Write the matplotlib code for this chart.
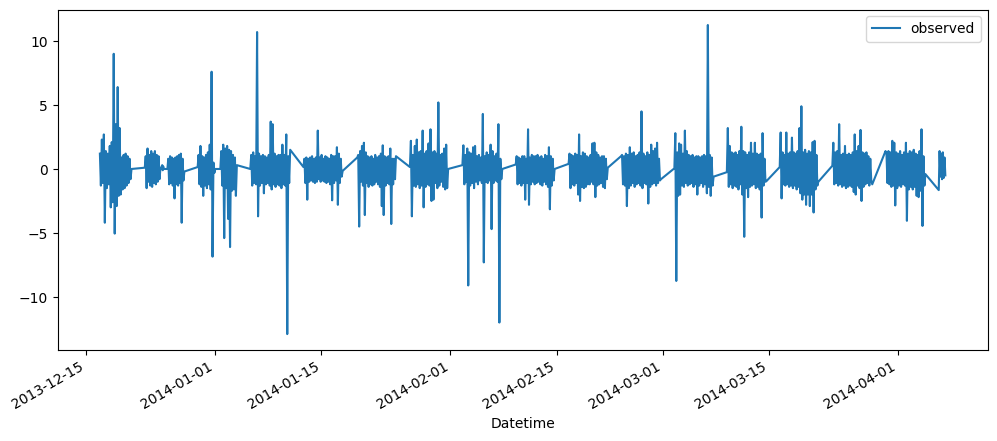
import numpy as np
import pandas as pd
import matplotlib
matplotlib.use("Agg")
import matplotlib.pyplot as plt

# session boundaries (one block of intraday values per week)
block_start = ["2013-12-16 18:43", "2013-12-22 16:48", "2013-12-25 00:00", "2013-12-25 16:19",
               "2013-12-29 16:05", "2014-01-01 15:50", "2014-01-05 14:38", "2014-01-12 14:53",
               "2014-01-19 17:17", "2014-01-26 15:50", "2014-02-02 13:55", "2014-02-09 14:38",
               "2014-02-16 13:55", "2014-02-23 12:00", "2014-03-02 12:43", "2014-03-09 10:48",
               "2014-03-16 10:05", "2014-03-23 08:38", "2014-03-30 08:53", "2014-04-06 09:22"]
block_end = ["2013-12-20 22:48", "2013-12-24 18:14", "2013-12-25 04:48", "2013-12-27 22:05",
             "2014-01-01 00:00", "2014-01-03 20:10", "2014-01-10 20:53", "2014-01-17 18:58",
             "2014-01-24 19:41", "2014-01-31 16:48", "2014-02-07 20:10", "2014-02-14 17:46",
             "2014-02-21 18:00", "2014-02-28 18:14", "2014-03-07 16:48", "2014-03-14 16:05",
             "2014-03-21 12:14", "2014-03-28 14:53", "2014-04-04 15:07", "2014-04-07 06:14"]

wk_dec16 = [1.2, -1.3, 2.3, -1.1, 2.7, -4.2, 1.4, -1.5, 1.2, -1.2, 1.8, -3.0, 2.1, -2.6, 9.0, -5.05,
            3.5, -2.9, 6.4, -2.1, 3.2, -2.0, 0.9, -1.6, 1.1, -1.5, 1.2, -1.3, 1.0, -1.1, 0.8, -0.8, 0.0]
wk_dec23 = [0.1, 1.0, -1.5, 1.6, -1.0, 1.1, -1.3, 1.4, -1.4, 1.2, -1.1, 1.4, -1.2, 1.1, -1.0, 1.0, -0.8, 0.0]
xmas = [0.3, -0.1, 0.2, 0.0]
wk_dec26 = [0.0, 0.8, -1.2, 1.0, -1.1, 0.9, -1.3, 0.8, -2.3, 0.9, -1.2, 1.0, -1.3, 1.1, -1.1, 1.2, -4.2,
            0.8, -0.9, -0.2]
wk_dec30 = [0.15, 1.1, -1.2, 1.8, -1.4, 1.0, -2.1, 0.9, -1.3, 1.1, -1.5, 1.3, -1.2, 1.9, -1.6, 7.6, -6.85,
            0.5, -0.3, 0.0]
wk_jan02 = [0.0, 1.4, -1.3, 1.9, -5.4, 1.6, -1.5, 1.8, -3.9, 1.5, -6.1, 1.4, -1.7, 1.1, -1.6, 0.9, -2.1, 0.3]
wk_jan06 = [0.0, 1.1, -1.3, 1.3, -1.1, 1.0, -1.2, 10.7, -3.7, 1.2, -1.3, 1.0, -1.1, 1.1, -1.9, 1.0, -1.2,
            0.9, -1.1, 1.1, -1.3, 3.7, -1.6, 3.5, -1.2, 1.2, -1.4, 1.0, -1.2, 1.1, -1.3, 1.1, -1.5,
            1.9, -1.2, 1.1, -1.3, 2.7, -12.9, 1.0, -1.1, 1.5]
wk_jan13 = [0.15, 0.8, -1.1, 0.9, -2.4, 0.8, -1.0, 0.9, -0.9, 1.0, -1.0, 0.8, -1.1, 0.9, -1.0, 3.0, -0.8,
            0.9, -1.0, 1.1, -0.9, 0.8, -1.0, 1.0, -1.1, 0.9, -1.0, 0.8, -1.2, 1.1, -2.45, 1.0, -1.1,
            1.0, -0.9, 1.7, -2.8, 1.2, -1.1, 0.8, -0.6, -0.15]
wk_jan20 = [0.9, 1.1, -4.5, 1.4, -1.0, 1.8, -1.3, 2.05, -3.6, 1.3, -1.1, 1.0, -1.4, 0.9, -1.2, 1.0, -1.3,
            0.8, -1.2, 1.1, -1.0, 0.9, -1.2, 1.0, -1.4, 1.2, -2.9, 1.85, -3.6, 1.0, -1.3, 0.9, -1.1,
            1.0, -1.2, 1.6, -4.3, 0.8, -1.2, 0.8, -0.8, 1.0]
wk_jan27 = [0.15, 2.2, -3.7, 1.1, -1.3, 1.8, -1.4, 2.3, -1.2, 1.3, -1.5, 1.4, -1.3, 3.0, -3.0, 1.2, -1.4,
            1.4, -1.2, 2.0, -1.3, 3.1, -2.5, 1.3, -2.4, 1.4, -1.1, 1.2, -1.5, 5.2, -1.3, 1.1, -1.0,
            1.2, -1.4, 1.6, -1.6, 1.9, -1.5, 0.0]
wk_feb03 = [0.3, 1.85, -1.2, 1.1, -1.0, 1.6, -9.1, 1.3, -1.3, 1.2, -1.1, 1.7, -1.5, 1.8, -1.0, 1.0, -1.2,
            1.1, -0.9, 0.9, -1.1, 4.3, -7.3, 1.0, -1.0, 1.3, -1.1, 1.1, -0.9, 1.9, -4.7, 1.4, -1.1,
            1.0, -0.9, 1.2, -1.0, 3.5, -12.0, 0.8, -0.8, 0.0]
wk_feb10 = [0.35, 1.0, -1.2, 0.9, -1.1, 0.8, -1.3, 1.0, -1.1, 1.0, -2.4, 0.8, -1.1, 3.1, -2.8, 0.9, -1.2,
            1.1, -1.0, 1.0, -1.2, 1.0, -1.1, 1.1, -1.0, 0.9, -1.2, 1.0, -1.3, 0.8, -1.0, 1.1, -1.2,
            1.0, -1.4, 1.7, -3.15, 1.0, -1.3, 0.8, -0.9, 0.0]
wk_feb17 = [0.4, 1.2, -1.5, 1.1, -1.2, 1.0, -1.3, 1.2, -1.1, 1.1, -2.0, 2.7, -2.5, 1.0, -1.4, 1.3, -1.5,
            1.2, -1.4, 1.0, -1.2, 0.9, -1.2, 1.1, -1.0, 2.0, -1.2, 2.05, -2.2, 1.3, -1.3, 1.1, -1.2,
            0.9, -1.1, 1.0, -1.4, 1.0, -1.5, 0.8, -0.8, 0.1]
wk_feb24 = [1.0, 1.1, -1.2, 1.0, -1.3, 1.2, -2.9, 1.1, -1.5, 1.7, -1.3, 1.2, -1.1, 1.3, -1.4, 1.0, -1.2,
            1.1, -1.1, 1.3, -1.3, 4.5, -1.5, 1.2, -1.1, 1.0, -1.2, 1.3, -2.7, 1.1, -1.4, 1.9, -1.2,
            1.4, -1.1, 1.6, -1.3, 2.05, -1.1, 0.8, -0.9, -0.8]
wk_mar03 = [0.05, 2.8, -8.75, 1.3, -2.1, 2.0, -2.0, 1.9, -1.3, 1.2, -1.4, 3.0, -1.1, 1.4, -1.3, 1.1, -1.2,
            1.0, -1.1, 1.1, -1.4, 0.9, -1.2, 1.0, -2.0, 1.0, -1.3, 0.9, -1.1, 1.0, -1.4, 1.1, -1.2,
            1.0, -1.9, 11.25, -1.4, 1.1, -2.1, 0.9, -1.3, -0.6]
wk_mar10 = [-0.25, 3.2, -1.4, 1.8, -1.2, 1.3, -1.5, 1.2, -1.3, 1.3, -1.4, 1.1, -1.6, 1.4, -1.2, 3.3, -2.0,
            1.4, -5.3, 1.3, -1.5, 1.1, -2.2, 1.3, -1.4, 2.05, -1.3, 1.2, -1.2, 2.05, -1.5, 1.2, -1.4,
            1.1, -1.6, 1.2, -3.8, 2.8, -1.3, 0.8, -1.0, -0.95]
wk_mar17 = [0.15, 2.85, -2.3, 1.3, -1.2, 1.1, -1.3, 2.85, -1.2, 1.2, -1.4, 1.3, -1.3, 2.45, -1.5, 1.3, -1.3,
            1.2, -1.6, 1.4, -1.4, 3.2, -1.9, 4.9, -2.4, 1.3, -2.0, 1.5, -2.8, 1.2, -2.0, 1.4, -2.9,
            1.3, -2.0, 2.1, -3.4, 2.2, -1.6, 1.1, -1.3, -1.0]
wk_mar24 = [0.25, 2.05, -1.2, 1.3, -1.1, 1.4, -1.3, 3.5, -1.2, 1.1, -1.4, 1.2, -1.3, 1.8, -1.5, 1.1, -1.4,
            1.2, -1.3, 1.1, -1.4, 1.3, -1.8, 2.7, -2.0, 1.4, -1.3, 1.8, -1.5, 3.05, -2.5, 1.3, -1.4,
            1.2, -1.2, 1.3, -1.1, 1.0, -1.3, 0.8, -0.9, -1.2]
wk_mar31 = [1.4, 1.2, -1.1, 1.4, -1.2, 1.3, -1.4, 2.2, -1.3, 2.05, -2.85, 1.3, -1.5, 1.2, -1.3, 1.4, -1.4,
            1.1, -1.2, 1.3, -1.3, 2.05, -4.05, 1.2, -1.6, 1.4, -1.4, 1.3, -1.6, 1.5, -1.4, 1.2, -2.1,
            1.1, -2.2, 1.4, -1.7, 3.1, -4.45, 1.0, -1.3, -0.4]
wk_apr07 = [-1.65, 1.4, -0.6, 1.2, -0.8, 1.3, -0.7, 0.9, -0.5]

blocks = [wk_dec16, wk_dec23, xmas, wk_dec26, wk_dec30, wk_jan02, wk_jan06, wk_jan13, wk_jan20,
          wk_jan27, wk_feb03, wk_feb10, wk_feb17, wk_feb24, wk_mar03, wk_mar10, wk_mar17, wk_mar24,
          wk_mar31, wk_apr07]

parts = []
for s, e, vals in zip(block_start, block_end, blocks):
    idx = pd.date_range(s, e, periods=len(vals))
    parts.append(pd.Series(vals, index=idx))
observed = pd.concat(parts)
observed.name = "observed"

fig, ax = plt.subplots(figsize=(12, 5), dpi=100)
ax.plot(observed.index, observed.values, label="observed")
ax.set_xlabel("Datetime")
ax.legend(loc="upper right")
fig.autofmt_xdate()
fig.savefig("out.png", bbox_inches="tight")
